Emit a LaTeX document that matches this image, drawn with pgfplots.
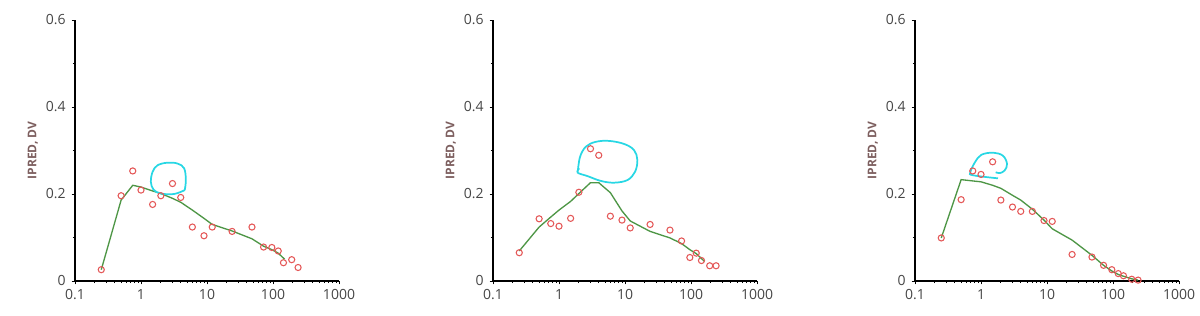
\documentclass[border=0pt]{standalone}
\usepackage{fontspec}
\setmainfont{Open Sans}
\usepackage{pgfplots}
\usepackage{pgfplotstable}
\pgfplotsset{compat=1.18}
\definecolor{obsred}{RGB}{228,88,88}
\definecolor{predgreen}{RGB}{78,150,70}
\definecolor{annocyan}{RGB}{40,215,228}
\definecolor{labgray}{RGB}{70,70,70}
\definecolor{ylabcol}{RGB}{125,95,95}

% Panel 1
\pgfplotstableread{
t dv
0.25 0.026
0.5 0.196
0.75 0.253
1 0.209
1.5 0.176
2 0.196
3 0.224
4 0.192
6 0.124
9 0.104
12 0.124
24 0.114
48 0.124
72 0.078
96 0.077
120 0.069
144 0.042
192 0.049
240 0.031
}\obsA
\pgfplotstableread{
t ipred
0.25 0.026
0.5 0.186
0.75 0.220
1 0.216
1.5 0.207
2 0.201
3 0.190
4 0.181
6 0.163
9 0.144
12 0.130
24 0.115
48 0.097
72 0.080
96 0.072
120 0.064
150 0.050
}\predA
\pgfplotstableread{
x y
4.6 0.209
4.78 0.232
4.51 0.259
3.57 0.270
2.52 0.272
1.78 0.266
1.50 0.251
1.41 0.228
1.55 0.210
2.0 0.201
3.18 0.200
4.61 0.209
}\annoA

% Panel 2
\pgfplotstableread{
t dv
0.25 0.065
0.5 0.143
0.75 0.132
1 0.126
1.5 0.144
2 0.204
3 0.304
4 0.289
6 0.149
9 0.140
12 0.122
24 0.130
48 0.117
72 0.092
96 0.054
120 0.064
144 0.047
192 0.035
240 0.035
}\obsB
\pgfplotstableread{
t ipred
0.25 0.069
0.5 0.124
0.75 0.147
1 0.163
1.5 0.183
2 0.201
3 0.226
4 0.226
6 0.203
9 0.161
12 0.138
24 0.114
48 0.099
72 0.086
96 0.072
120 0.063
160 0.045
}\predB
\pgfplotstableread{
x y
1.92 0.249
2.08 0.285
2.56 0.309
3.63 0.320
5.77 0.322
9.7 0.315
13.7 0.301
15.4 0.278
14.2 0.251
10.9 0.232
6.85 0.226
4.31 0.230
2.72 0.241
1.92 0.249
2.03 0.259
}\annoB

% Panel 3
\pgfplotstableread{
t dv
0.25 0.099
0.5 0.187
0.75 0.253
1 0.245
1.5 0.274
2 0.186
3 0.170
4 0.160
6 0.160
9 0.139
12 0.137
24 0.061
48 0.055
72 0.036
96 0.026
120 0.017
144 0.012
192 0.004
240 0.002
}\obsC
\pgfplotstableread{
t ipred
0.25 0.099
0.5 0.233
0.75 0.230
1 0.228
1.5 0.220
2 0.213
3 0.197
4 0.186
6 0.165
9 0.140
12 0.120
24 0.094
48 0.059
72 0.036
96 0.023
120 0.015
144 0.011
192 0.005
240 0.002
}\predC
\pgfplotstableread{
x y
1.81 0.236
0.76 0.243
0.69 0.250
0.81 0.273
1.01 0.290
1.52 0.295
2.15 0.288
2.48 0.269
2.28 0.254
1.92 0.248
1.67 0.250
}\annoC

\pgfplotsset{
  /pgfplots/mypanel/.style={
    scale only axis,
    width=198pt, height=195.75pt,
    anchor=south west,
    xmin=0.1, xmax=1000,
    ymin=0, ymax=0.6,
    axis lines=left,
    axis line style={-, line width=1.2pt, black},
    xtick={0.1,1,10,100,1000},
    xticklabels={0.1,1,10,100,1000},
    minor xtick={0.2,0.3,0.4,0.5,0.6,0.7,0.8,0.9,2,3,4,5,6,7,8,9,20,30,40,50,60,70,80,90,200,300,400,500,600,700,800,900},
    ytick={0,0.2,0.4,0.6},
    yticklabels={0,0.2,0.4,0.6},
    minor ytick={0.1,0.3,0.5},
    tick align=outside,
    major tick length=2.5pt,
    minor tick length=1.6pt,
    tick style={black, line width=0.6pt},
    ticklabel style={font=\fontsize{10.5}{12}\selectfont, text=labgray},
    xticklabel style={yshift=0pt},
    yticklabel style={xshift=-1pt},
    ylabel={IPRED, DV},
    ylabel style={at={(axis description cs:-0.16,0.5)}, anchor=center,
      font=\fontsize{9}{10}\selectfont\bfseries, text=ylabcol},
    clip=false,
  },
}
\tikzset{
  obs/.style={only marks, mark=o, mark size=2.3pt, color=obsred, mark options={line width=0.8pt}},
  pred/.style={no marks, color=predgreen, line width=1pt},
  anno/.style={no marks, color=annocyan, line width=1.3pt, smooth, tension=0.6},
}

\begin{document}
\begin{tikzpicture}
\useasboundingbox (0,0) rectangle (900pt,237pt);
\begin{semilogxaxis}[mypanel, at={(56.25pt,26.25pt)}]
\addplot[pred] table[x=t,y=ipred] {\predA};
\addplot[obs] table[x=t,y=dv] {\obsA};
\addplot[anno] table[x=x,y=y] {\annoA};
\end{semilogxaxis}
\begin{semilogxaxis}[mypanel, at={(369.75pt,26.25pt)}]
\addplot[pred] table[x=t,y=ipred] {\predB};
\addplot[obs] table[x=t,y=dv] {\obsB};
\addplot[anno] table[x=x,y=y] {\annoB};
\end{semilogxaxis}
\begin{semilogxaxis}[mypanel, at={(686.25pt,26.25pt)}]
\addplot[pred] table[x=t,y=ipred] {\predC};
\addplot[obs] table[x=t,y=dv] {\obsC};
\addplot[anno] table[x=x,y=y] {\annoC};
\end{semilogxaxis}
\end{tikzpicture}
\end{document}
